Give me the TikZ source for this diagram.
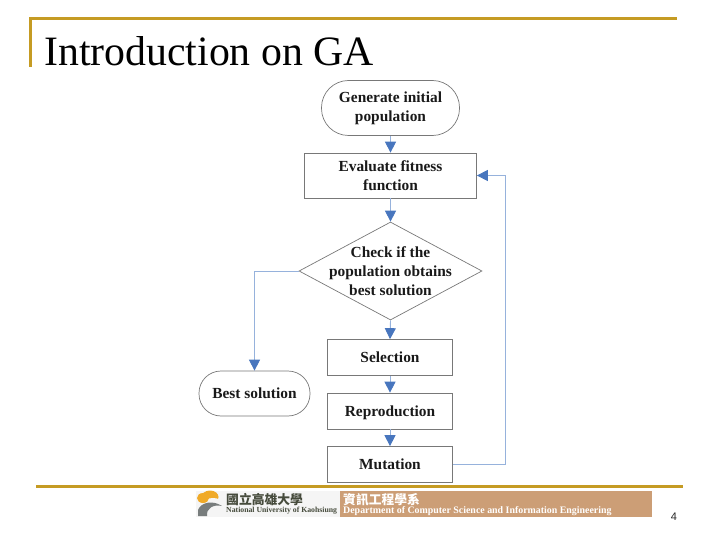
\documentclass[tikz,border=0pt]{standalone}
\usepackage{fontspec}
\setmainfont{Liberation Serif}
\newfontfamily\cjk{Noto Sans CJK TC}
\newfontfamily\arialf{Liberation Sans}
\usetikzlibrary{shapes.geometric,arrows.meta}
\definecolor{gold}{RGB}{197,155,35}
\definecolor{edgeblue}{RGB}{150,178,220}
\definecolor{tipblue}{RGB}{72,118,190}
\definecolor{boxgray}{RGB}{120,120,120}
\definecolor{tan}{RGB}{204,158,118}
\definecolor{logogray}{RGB}{120,125,125}
\definecolor{logoorange}{RGB}{240,170,40}
\definecolor{logotext}{RGB}{70,75,60}
\tikzset{
  flowtext/.style={align=center,inner sep=0pt,font=\fontsize{15.4}{18.7}\selectfont\bfseries,text=black!90},
  flowbox/.style={flowtext,draw=boxgray,line width=0.7pt,minimum height=#1},
  flowbox/.default=36pt,
  flow/.style={draw=edgeblue,line width=0.9pt,-{Triangle[length=11pt,width=11pt,fill=tipblue,color=tipblue]}},
  goldline/.style={draw=gold,line width=2.6pt}
}
\begin{document}
\begin{tikzpicture}[x=1pt,y=-1pt]
\useasboundingbox (0,0) rectangle (720,540);
% frame
\draw[goldline] (677,18.5) -- (30.5,18.5) -- (30.5,67);
\draw[goldline] (36,486.5) -- (683,486.5);
\node[anchor=base west,inner sep=0pt,font=\fontsize{41.8}{42}\selectfont,text=black] (title) at (44,66) {Introduction on GA};
% flow nodes
\node[flowbox=55pt,rounded corners=27pt,minimum width=138pt] (gen) at (390.5,108) {Generate initial\\population};
\node[flowbox=45pt,minimum width=172pt] (eval) at (390.5,175.5) {Evaluate fitness\\function};
\node[diamond,draw=boxgray,line width=0.7pt,inner sep=0pt,minimum width=183pt,minimum height=98pt] (chk) at (390.5,271) {};
\node[flowtext] (chktext) at (chk.center) {Check if the\\population obtains\\best solution};
\node[flowbox,minimum width=125pt] (sel) at (390,357.5) {Selection};
\node[flowbox,minimum width=125pt,text depth=0pt] (rep) at (390,411) {Reproduction};
\node[flowbox,minimum width=125pt] (mut) at (390,464.5) {Mutation};
\node[flowbox=45pt,rounded corners=22pt,minimum width=111pt] (best) at (254.5,393.5) {Best solution};
% connectors
\draw[flow] (gen.south) -- (eval.north);
\draw[flow] (eval.south) -- (chk.north);
\draw[flow] (chk.south) -- (sel.north);
\draw[flow] (sel.south) -- (rep.north);
\draw[flow] (rep.south) -- (mut.north);
\draw[flow] (chk.west) -| (best.north);
\coordinate (rt) at (505,464.5);
\draw[flow] (mut.east) -- (rt) |- (eval.east);
% footer
\fill[tan] (340,491) rectangle (652,517);
\fill[black!4] (196,491) rectangle (340,517);
\fill[logoorange] (210,497) circle (8.5 and 6.5);
\fill[black!4] (213,503) circle (9 and 5);
\fill[logoorange] (203,498) circle (6 and 5);
\fill[logogray] (198,510) .. controls (201,502) and (213,500) .. (222,506) .. controls (214,504) and (206,508) .. (207,516) -- (198,516) -- cycle;
\node[anchor=west,inner sep=0pt,font=\cjk\fontsize{12.8}{13}\selectfont\bfseries,text=logotext] (uniz) at (226,499.5) {國立高雄大學};
\node[anchor=west,inner sep=0pt,font=\fontsize{7.75}{9}\selectfont\bfseries,text=logotext] (unie) at (226,511) {National University of Kaohsiung};
\node[anchor=west,inner sep=0pt,font=\cjk\fontsize{12.8}{13}\selectfont\bfseries,text=white] (depz) at (343,499.5) {資訊工程學系};
\node[anchor=west,inner sep=0pt,font=\fontsize{9.9}{10}\selectfont\bfseries,text=white] (depe) at (343,511) {Department of Computer Science and Information Engineering};
\node[anchor=center,inner sep=0pt,font=\arialf\fontsize{11}{12}\selectfont,text=black!85] (num) at (674,516.5) {4};
\end{tikzpicture}
\end{document}
